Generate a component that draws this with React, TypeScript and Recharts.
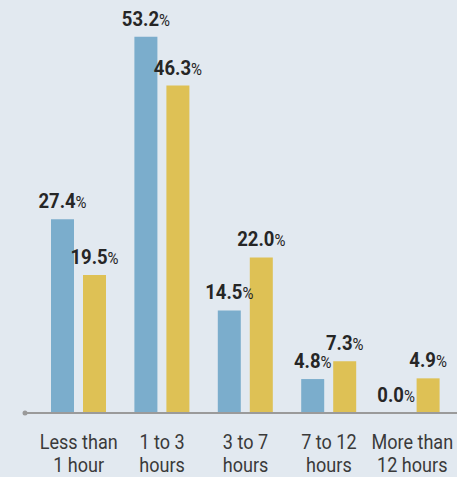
import React from "react";
import { BarChart, Bar, XAxis, YAxis, LabelList, usePlotArea } from "recharts";

const categories = [
  ["Less than", "1 hour"],
  ["1 to 3", "hours"],
  ["3 to 7", "hours"],
  ["7 to 12", "hours"],
  ["More than", "12 hours"],
];
const seriesA = [27.4, 53.2, 14.5, 4.8, 0.0];
const seriesB = [19.5, 46.3, 22.0, 7.3, 4.9];

const data = categories.map((c, i) => ({ name: c.join("|"), a: seriesA[i], b: seriesB[i] }));

const FONT = "Roboto, 'Open Sans', sans-serif";

// the original uses a condensed face, so squeeze Roboto horizontally
const PctLabel = (props: any) => {
  const { x, y, width, value } = props;
  return (
    <g transform={`translate(${x + width / 2},${y - 11}) scale(0.88,1)`}>
      <text x={0} y={0} textAnchor="middle" fontFamily={FONT} fill="#262626">
        <tspan fontSize={21} fontWeight={700}>{Number(value).toFixed(1)}</tspan>
        <tspan fontSize={17}>%</tspan>
      </text>
    </g>
  );
};

const CatTick = (props: any) => {
  const { x, y, payload } = props;
  const [l1, l2] = String(payload.value).split("|");
  return (
    <g transform={`translate(${x},${y}) scale(0.86,1)`}>
      <text textAnchor="middle" fontFamily={FONT} fontSize={21} fill="#3a3a3a">
        <tspan x={0} y={28}>{l1}</tspan>
        <tspan x={0} y={51}>{l2}</tspan>
      </text>
    </g>
  );
};

// little dot at the left end of the axis line
const AxisDot = () => {
  const area = usePlotArea();
  if (!area) return null;
  return <circle cx={area.x} cy={area.y + area.height} r={2.5} fill="#9a9a9a" />;
};

export default function App() {
  return (
    <div style={{ width: 457, height: 477, background: "#e2e9f0" }}>
      <style>{`body{margin:0}`}</style>
      <BarChart
        width={457}
        height={477}
        data={data}
        margin={{ top: 24, right: 0, bottom: 0, left: 25 }}
        barSize={23}
        barGap={9}
      >
        <XAxis
          dataKey="name"
          height={64}
          tickLine={false}
          axisLine={{ stroke: "#9a9a9a", strokeWidth: 2 }}
          padding={{ left: 12, right: 3 }}
          tick={<CatTick />}
          interval={0}
        />
        <YAxis hide domain={[0, 55]} />
        <Bar dataKey="a" fill="#7badcc" minPointSize={0.5} isAnimationActive={false}>
          <LabelList dataKey="a" content={<PctLabel />} />
        </Bar>
        <Bar dataKey="b" fill="#dec155" isAnimationActive={false}>
          <LabelList dataKey="b" content={<PctLabel />} />
        </Bar>
        <AxisDot />
      </BarChart>
    </div>
  );
}
